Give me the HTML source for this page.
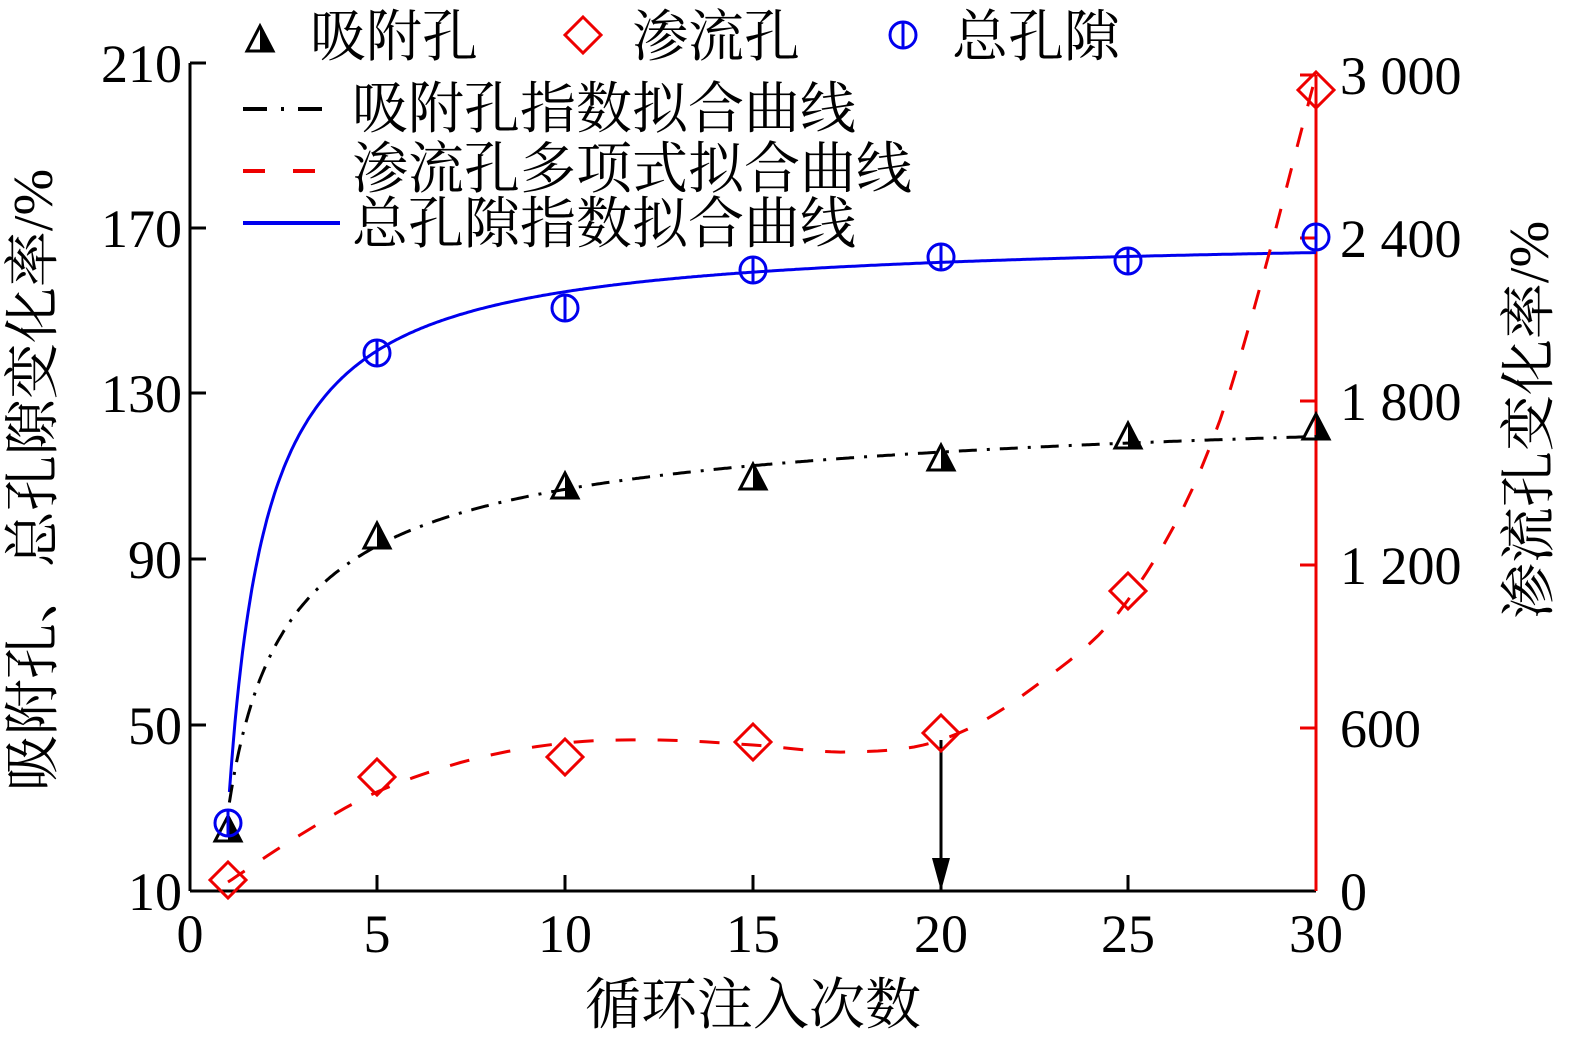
<!DOCTYPE html>
<html><head><meta charset="utf-8"><style>
html,body{margin:0;padding:0;background:#fff;overflow:hidden;width:1579px;height:1041px}
svg{display:block}
svg text{font-family:"Liberation Serif","Noto Serif CJK SC",serif}
</style></head><body>
<svg id="s" width="1579" height="1041" xmlns="http://www.w3.org/2000/svg">
<g fill="#000">
<line x1="190" y1="63" x2="190" y2="891" stroke="#000" stroke-width="3"/>
<line x1="190" y1="891" x2="1316" y2="891" stroke="#000" stroke-width="3"/>
<line x1="1316" y1="75" x2="1316" y2="891" stroke="#e00" stroke-width="3"/>
<g stroke="#000" stroke-width="3">
<line x1="190" y1="63" x2="206" y2="63"/><line x1="190" y1="228" x2="206" y2="228"/><line x1="190" y1="393" x2="206" y2="393"/><line x1="190" y1="559" x2="206" y2="559"/><line x1="190" y1="725" x2="206" y2="725"/>
<line x1="377" y1="891" x2="377" y2="875"/><line x1="565" y1="891" x2="565" y2="875"/><line x1="753" y1="891" x2="753" y2="875"/><line x1="941" y1="891" x2="941" y2="875"/><line x1="1128" y1="891" x2="1128" y2="875"/>
</g>
<g stroke="#e00" stroke-width="3">
<line x1="1316" y1="75" x2="1300" y2="75"/><line x1="1316" y1="238" x2="1300" y2="238"/><line x1="1316" y1="401" x2="1300" y2="401"/><line x1="1316" y1="565" x2="1300" y2="565"/><line x1="1316" y1="728" x2="1300" y2="728"/>
</g>
<g font-size="54">
<g text-anchor="end">
<text x="182" y="82">210</text><text x="182" y="247">170</text><text x="182" y="412">130</text><text x="182" y="578">90</text><text x="182" y="744">50</text><text x="182" y="910">10</text>
</g>
<g text-anchor="middle">
<text x="190" y="952">0</text><text x="377" y="952">5</text><text x="565" y="952">10</text><text x="753" y="952">15</text><text x="941" y="952">20</text><text x="1128" y="952">25</text><text x="1316" y="952">30</text>
</g>
<text x="1340" y="94">3 000</text><text x="1340" y="257">2 400</text><text x="1340" y="420">1 800</text><text x="1340" y="584">1 200</text><text x="1340" y="747">600</text><text x="1340" y="910">0</text>
</g>
<g font-size="56">
<text x="753" y="1024" text-anchor="middle">循环注入次数</text>
<text transform="translate(52,480) rotate(-90)" text-anchor="middle">吸附孔、总孔隙变化率/%</text>
<text transform="translate(1548,420) rotate(-90)" text-anchor="middle">渗流孔变化率/%</text>
<text x="310" y="56">吸附孔</text><text x="632" y="56">渗流孔</text><text x="952" y="56">总孔隙</text>
<text x="352" y="128">吸附孔指数拟合曲线</text><text x="352" y="188">渗流孔多项式拟合曲线</text><text x="352" y="243">总孔隙指数拟合曲线</text>
</g>
<line x1="243" y1="109" x2="332" y2="109" stroke="#000" stroke-width="4" stroke-dasharray="24,14,3,14"/>
<line x1="243" y1="171" x2="332" y2="171" stroke="#e00" stroke-width="4" stroke-dasharray="22,28"/>
<line x1="243" y1="223" x2="340" y2="223" stroke="#00e" stroke-width="4"/>
<line x1="941" y1="740" x2="941" y2="870" stroke="#000" stroke-width="3"/>
<polygon points="932,858 950,858 941,891" fill="#000"/>
</g>
<g id="curves"></g>
<g id="marks"></g>
</svg>
<script>
var ns="http://www.w3.org/2000/svg",C=document.getElementById('curves'),M=document.getElementById('marks');
function px(x){return 190+x*1126/30}
function el(t,a,p){var e=document.createElementNS(ns,t);for(var k in a)e.setAttribute(k,a[k]);(p||C).appendChild(e);return e}
var b=[],k=[];for(var x=1.05;x<=30.001;x+=0.05){b.push(px(x).toFixed(1)+','+(233+587/x).toFixed(1));k.push(px(x).toFixed(1)+','+(380+435/Math.pow(x,0.6)).toFixed(1));}
el('polyline',{points:b.join(' '),fill:'none',stroke:'#00e','stroke-width':3});
el('polyline',{points:k.join(' '),fill:'none',stroke:'#000','stroke-width':3,'stroke-dasharray':'18,10,3,10'});
var r=[[228,882],[300,835],[377,792],[470,760],[565,743],[660,740],[753,745],[850,752],[941,740],[1030,690],[1128,600],[1220,420],[1316,75]],rp=[];
for(var i=0;i<r.length-1;i++){var p0=r[Math.max(i-1,0)],p1=r[i],p2=r[i+1],p3=r[Math.min(i+2,r.length-1)];for(var t=0;t<1;t+=0.1){var t2=t*t,t3=t2*t;var f=function(a,b,c,d){return 0.5*(2*b+(-a+c)*t+(2*a-5*b+4*c-d)*t2+(-a+3*b-3*c+d)*t3)};rp.push(f(p0[0],p1[0],p2[0],p3[0]).toFixed(1)+','+f(p0[1],p1[1],p2[1],p3[1]).toFixed(1));}}
rp.push('1316,75');
el('polyline',{points:rp.join(' '),fill:'none',stroke:'#e00','stroke-width':3,'stroke-dasharray':'20,22'});
function tri(x,y){el('polygon',{points:(x-13)+','+(y+11)+' '+(x+13)+','+(y+11)+' '+x+','+(y-14),fill:'none',stroke:'#000','stroke-width':3},M);el('polygon',{points:(x)+','+(y+11)+' '+(x+13)+','+(y+11)+' '+x+','+(y-14),fill:'#000'},M);}
function cir(x,y){el('circle',{cx:x,cy:y,r:13,fill:'none',stroke:'#00e','stroke-width':3},M);el('line',{x1:x,y1:y-13,x2:x,y2:y+13,stroke:'#00e','stroke-width':3},M);}
function dia(x,y){el('polygon',{points:x+','+(y-18)+' '+(x+18)+','+y+' '+x+','+(y+18)+' '+(x-18)+','+y,fill:'none',stroke:'#e00','stroke-width':3},M);}
[[228,830],[377,537],[565,487],[753,478],[941,459],[1128,437],[1316,428],[260,40]].forEach(function(p){tri(p[0],p[1])});
[[228,880],[377,777],[565,757],[753,742],[941,733],[1128,591],[1316,90],[583,35]].forEach(function(p){dia(p[0],p[1])});
[[228,823],[377,353],[565,308],[753,270],[941,257],[1128,261],[1316,237],[903,35]].forEach(function(p){cir(p[0],p[1])});
</script>
</body></html>
